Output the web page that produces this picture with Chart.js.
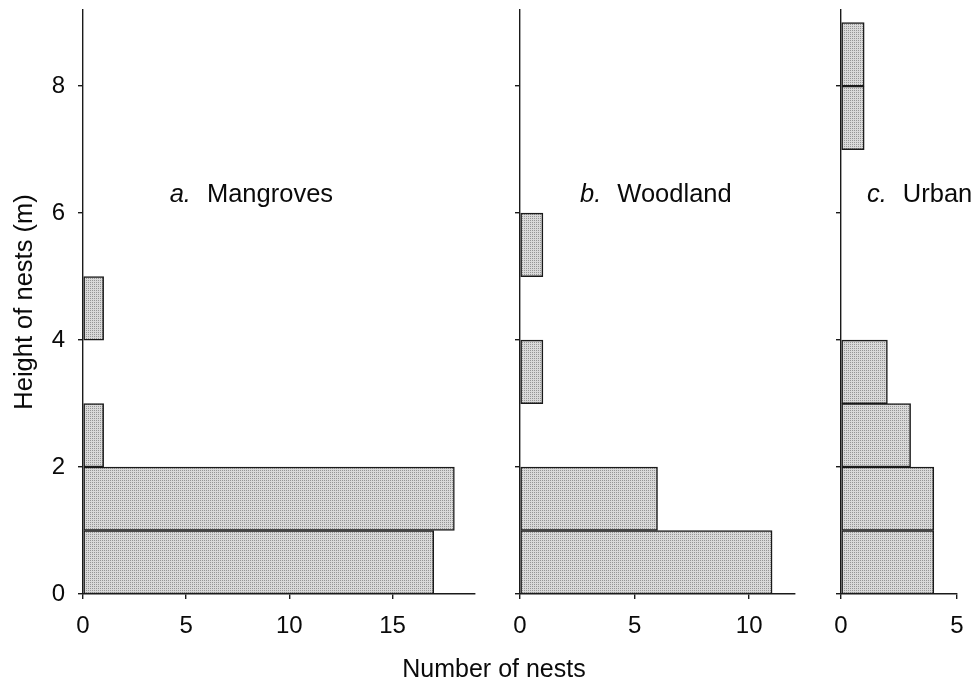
<!DOCTYPE html>
<html>
<head>
<meta charset="utf-8">
<script src="https://cdn.jsdelivr.net/npm/chart.js@4.4.1/dist/chart.umd.min.js"></script>
<style>
  body { margin: 0; background: #fff; }
  #wrap { position: relative; width: 972px; height: 684px; overflow: hidden; }
  #wrap canvas { position: absolute; top: 0; }
  #xTitle {
    position: absolute; left: 344px; width: 300px; top: 656px;
    text-align: center; color: #0a0a0a;
    font: 25px "Liberation Sans", Arial, sans-serif; line-height: 25px;
  }
</style>
</head>
<body>
<div id="wrap">
  <canvas id="chartA" width="480" height="684" style="left:0px"></canvas>
  <canvas id="chartB" width="330" height="684" style="left:480px"></canvas>
  <canvas id="chartC" width="162" height="684" style="left:810px"></canvas>
  <div id="xTitle">Number of nests</div>
</div>
<script>
// height classes (lower bound, m), each class is 1 m wide
const heightClasses = [0, 1, 2, 3, 4, 5, 6, 7, 8];

// number of nests per height class
const mangroves = [17, 18, 1, 0, 1, 0, 0, 0, 0];
const woodland = [11, 6, 0, 1, 0, 1, 0, 0, 0];
const urban = [4, 4, 3, 2, 0, 0, 0, 1, 1];

const panelLetters = ['a.', 'b.', 'c.'];
const panelNames = ['Mangroves', 'Woodland', 'Urban'];

const yTitle = 'Height of nests (m)';
const FONT = '"Liberation Sans", Arial, Helvetica, sans-serif';
const INK = '#0a0a0a';

// layout of the three panels
const panels = [
    { id: 'chartA', counts: mangroves, yWidth: 83, padRight: 5, xMax: 19, labelAt: [4.2, 6.28], showY: true },
    { id: 'chartB', counts: woodland, yWidth: 40, padRight: 15, xMax: 12, labelAt: [2.62, 6.28], showY: false },
    { id: 'chartC', counts: urban, yWidth: 31, padRight: 15, xMax: 5, labelAt: [1.12, 6.28], showY: false }
];

// stippled grey fill like the printed figure
function makeStipple(ctx) {
    const c = document.createElement('canvas');
    c.width = 2;
    c.height = 2;
    const g = c.getContext('2d');
    g.fillStyle = '#d9d9d9';
    g.fillRect(0, 0, 2, 2);
    g.fillStyle = '#959595';
    g.fillRect(0, 0, 1, 1);
    return ctx.createPattern(c, 'repeat');
}

// draws the "a.  Mangroves" style label inside a panel
const panelLabel = {
    id: 'panelLabel',
    afterDraw(chart, args, opts) {
        const { ctx, scales } = chart;
        const x = scales.x.getPixelForValue(opts.at[0]);
        const y = scales.y.getPixelForValue(opts.at[1]);
        ctx.save();
        ctx.fillStyle = INK;
        ctx.textBaseline = 'middle';
        ctx.font = 'italic 25.5px ' + FONT;
        ctx.fillText(opts.letter, x, y);
        const w = ctx.measureText(opts.letter).width;
        ctx.font = '25.5px ' + FONT;
        ctx.fillText(opts.name, x + w + 16, y);
        ctx.restore();
    }
};

function zeroPadding(scale) {
    scale.paddingTop = 0;
    scale.paddingBottom = 0;
    scale.paddingLeft = 0;
    scale.paddingRight = 0;
}

panels.forEach((p, i) => {
    const ctx = document.getElementById(p.id).getContext('2d');
    const points = heightClasses.map((h, k) => ({ x: p.counts[k], y: h + 0.5 }));

    new Chart(ctx, {
        type: 'bar',
        data: {
            datasets: [{
                data: points,
                backgroundColor: makeStipple(ctx),
                borderColor: '#1a1a1a',
                borderWidth: 1.5,
                borderSkipped: false,
                barPercentage: 1,
                categoryPercentage: 1
            }]
        },
        plugins: [panelLabel],
        options: {
            indexAxis: 'y',
            responsive: false,
            animation: false,
            layout: { padding: { left: 0, right: p.padRight, top: 10, bottom: 0 } },
            plugins: {
                legend: { display: false },
                tooltip: { enabled: false },
                panelLabel: { at: p.labelAt, letter: panelLetters[i], name: panelNames[i] }
            },
            scales: {
                x: {
                    type: 'linear',
                    min: 0,
                    max: p.xMax,
                    border: { display: true, color: '#1a1a1a', width: 1.4 },
                    grid: { display: true, drawOnChartArea: false, drawTicks: true, tickLength: 5, color: '#1a1a1a', lineWidth: 1.4 },
                    ticks: { stepSize: 5, includeBounds: false, padding: 13, color: INK, font: { family: FONT, size: 24 }, maxRotation: 0 },
                    afterFit(scale) { scale.height = 90; zeroPadding(scale); }
                },
                y: {
                    type: 'linear',
                    min: 0,
                    max: 9.2,
                    offset: false,
                    border: { display: true, color: '#1a1a1a', width: 1.4 },
                    grid: { display: true, offset: false, drawOnChartArea: false, drawTicks: true, tickLength: 5, color: '#1a1a1a', lineWidth: 1.4 },
                    ticks: { stepSize: 2, includeBounds: false, display: p.showY, padding: 13, color: INK, font: { family: FONT, size: 24 } },
                    title: {
                        display: p.showY,
                        text: yTitle,
                        color: INK,
                        font: { family: FONT, size: 25.5 },
                        padding: { top: 10, bottom: 0 }
                    },
                    afterFit(scale) { scale.width = p.yWidth; zeroPadding(scale); }
                }
            }
        }
    });
});
</script>
</body>
</html>
